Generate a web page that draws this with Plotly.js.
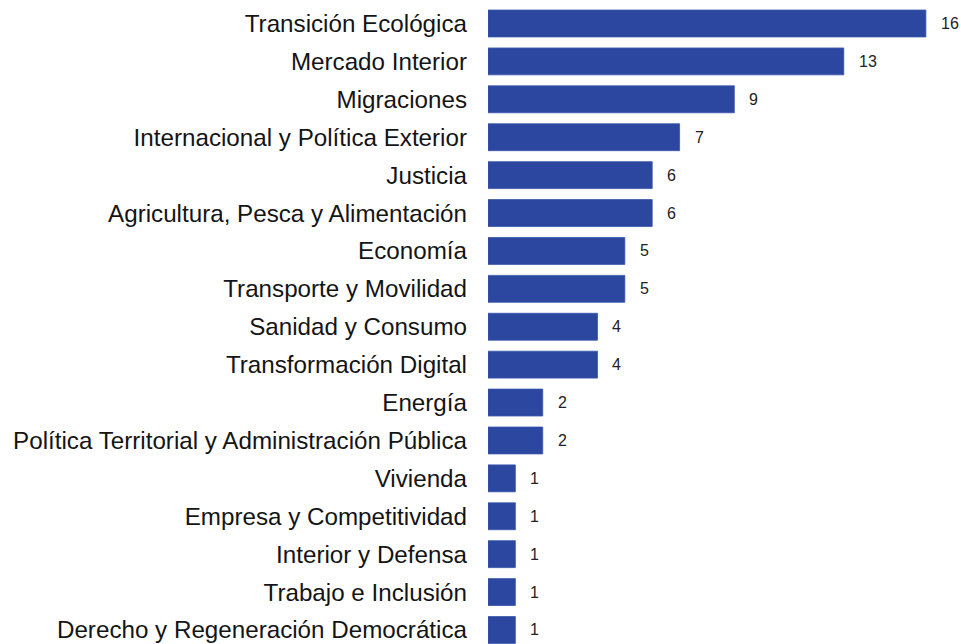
<!DOCTYPE html>
<html>
<head>
<meta charset="utf-8">
<script src="https://cdn.plot.ly/plotly-3.0.1.min.js"></script>
<style>html,body{margin:0;padding:0;background:#fff;}#chart{width:961px;height:644px;}</style>
</head>
<body>
<div id="chart"></div>
<script>
const categories = [
  "Transición Ecológica",
  "Mercado Interior",
  "Migraciones",
  "Internacional y Política Exterior",
  "Justicia",
  "Agricultura, Pesca y Alimentación",
  "Economía",
  "Transporte y Movilidad",
  "Sanidad y Consumo",
  "Transformación Digital",
  "Energía",
  "Política Territorial y Administración Pública",
  "Vivienda",
  "Empresa y Competitividad",
  "Interior y Defensa",
  "Trabajo e Inclusión",
  "Derecho y Regeneración Democrática"
];
const values = [16, 13, 9, 7, 6, 6, 5, 5, 4, 4, 2, 2, 1, 1, 1, 1, 1];

const trace = {
  type: "bar",
  orientation: "h",
  y: categories,
  x: values,
  marker: {color: "#2B479F", line: {color: "#3A56AC", width: 0.8}},
  width: 0.71,
  hoverinfo: "none"
};

const annotations = categories.map((c, i) => ({
  x: values[i], y: c, xref: "x", yref: "y",
  text: String(values[i]), showarrow: false,
  xanchor: "left", yanchor: "middle", xshift: 13,
  font: {family: "Liberation Sans, Arial, sans-serif", size: 16, color: "#222"}
}));

const layout = {
  width: 961, height: 644,
  margin: {l: 488, r: 5, t: 0, b: 0, pad: 0},
  paper_bgcolor: "#fff", plot_bgcolor: "#fff",
  showlegend: false,
  font: {family: "Liberation Sans, Arial, sans-serif", color: "#1a1a1a"},
  xaxis: {range: [0, 17.1], showgrid: false, zeroline: false, showticklabels: false, showline: false, ticks: ""},
  yaxis: {
    type: "category",
    categoryorder: "array", categoryarray: categories,
    range: [16.37, -0.62],
    showgrid: false, zeroline: false, showline: false, ticks: "",
    ticklabelstandoff: 20,
    tickfont: {family: "Liberation Sans, Arial, sans-serif", size: 24.2, color: "#141414"}
  },
  annotations: annotations
};

Plotly.newPlot("chart", [trace], layout, {displayModeBar: false, staticPlot: true});
</script>
</body>
</html>
